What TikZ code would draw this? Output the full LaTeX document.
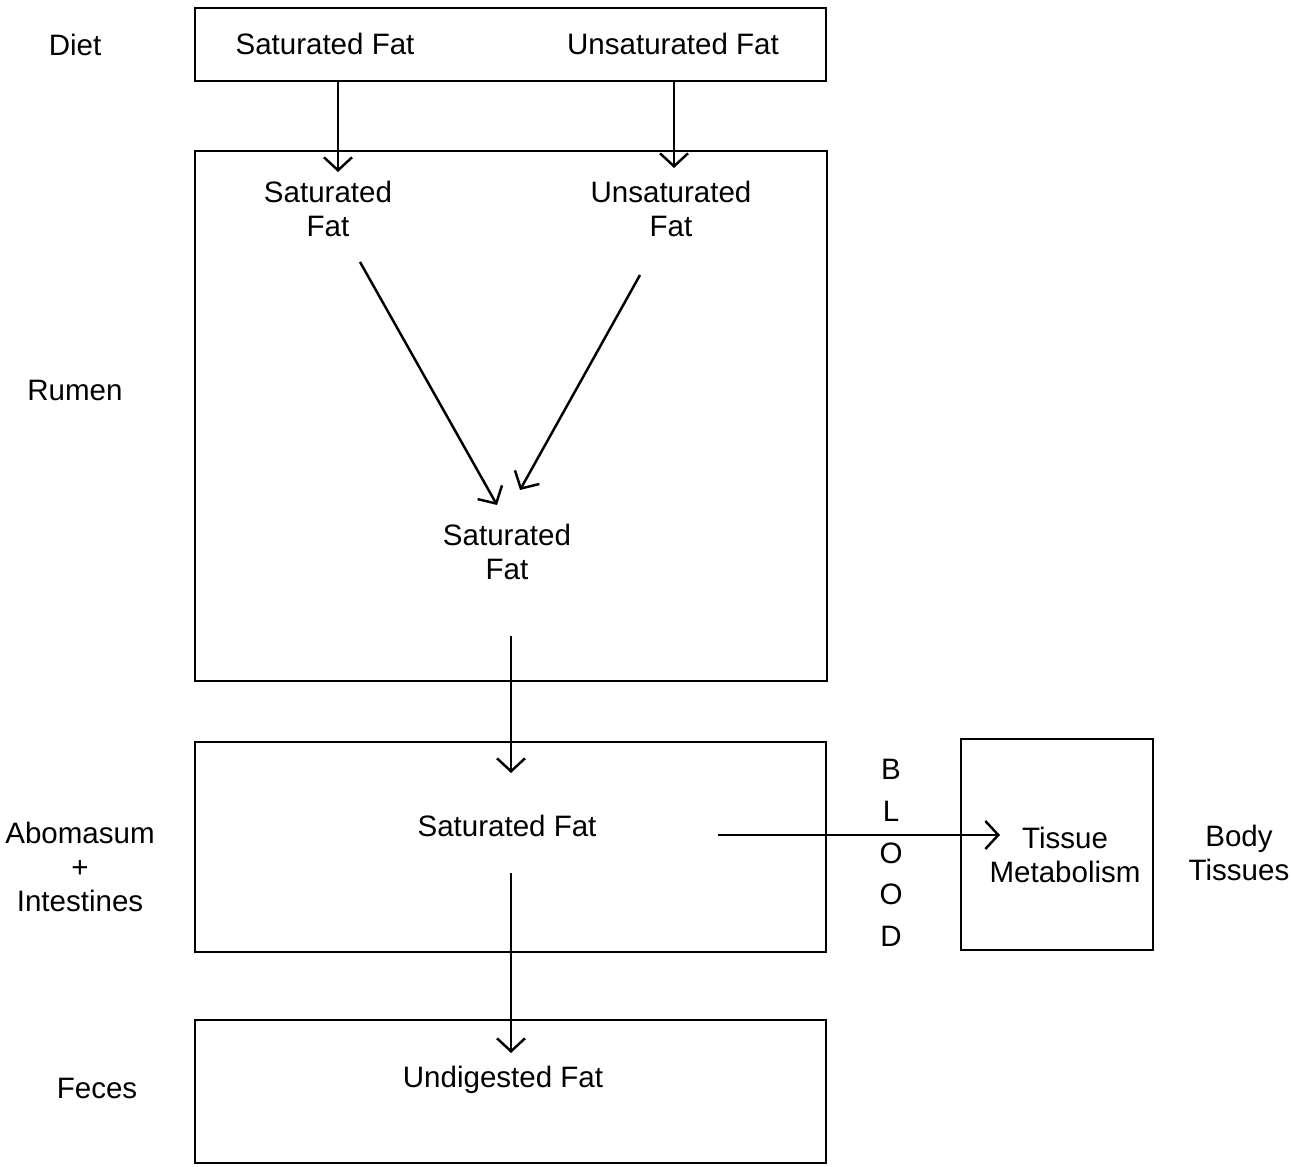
\documentclass[tikz,border=0pt]{standalone}
\usepackage{fontspec}
\setmainfont{Liberation Sans}
\usepackage{tikz}
\usetikzlibrary{arrows.meta,calc,positioning}

\tikzset{
  stage/.style={draw, line width=0.75pt, inner sep=0pt},
  lbl/.style={align=center, inner sep=1pt, font=\fontsize{8.4}{9.6}\selectfont},
  flow/.style={line width=0.7pt, -{Straight Barb[length=1.3mm,width=2.8mm,line width=0.7pt]}}
}

\begin{document}
\begin{tikzpicture}
\useasboundingbox (0,0) rectangle (12.91,11.66);
% boxes
\node[stage, minimum width=6.31cm, minimum height=0.73cm] (dietbox) at (5.105,11.215) {};
\node[stage, minimum width=6.32cm, minimum height=5.30cm] (rumenbox) at (5.11,7.50) {};
\node[stage, minimum width=6.31cm, minimum height=2.10cm] (abobox) at (5.105,3.19) {};
\node[stage, minimum width=6.31cm, minimum height=1.43cm] (fecesbox) at (5.105,0.745) {};
\node[stage, minimum width=1.92cm, minimum height=2.11cm] (bodybox) at (10.57,3.215) {};
% side labels
\node[lbl] (diet) at (0.75,11.21) {Diet};
\node[lbl] (rumen) at (0.75,7.76) {Rumen};
\node[lbl] (abomasum) at (0.80,2.99) {Abomasum\\+\\Intestines};
\node[lbl] (feces) at (0.97,0.78) {Feces};
\node[lbl] (body) at (12.39,3.13) {Body\\Tissues};
% contents
\node[lbl] (dsat) at (3.25,11.22) {Saturated Fat};
\node[lbl] (dunsat) at (6.73,11.22) {Unsaturated Fat};
\node[lbl] (rsat) at (3.28,9.57) {Saturated\\Fat};
\node[lbl] (runsat) at (6.71,9.57) {Unsaturated\\Fat};
\node[lbl] (rmid) at (5.07,6.14) {Saturated\\Fat};
\node[lbl] (asat) at (5.07,3.40) {Saturated Fat};
\node[lbl] (tissue) at (10.65,3.11) {Tissue\\Metabolism};
\node[lbl] (undig) at (5.03,0.86) {Undigested Fat};
\node[lbl, font=\fontsize{8.4}{11.9}\selectfont] (blood) at (8.91,3.13) {B\\L\\O\\O\\D};
% arrow ends
\coordinate (ds-in) at (3.38,9.94);
\coordinate (du-in) at (6.74,9.98);
\coordinate (rs-out) at (3.60,9.04);
\coordinate (ru-out) at (6.40,8.91);
\coordinate (rs-in) at (4.97,6.61);
\coordinate (ru-in) at (5.20,6.76);
\coordinate (rm-out) at (5.11,5.30);
\coordinate (as-in) at (5.11,3.93);
\coordinate (as-out) at (5.11,2.93);
\coordinate (as-right) at (7.18,3.31);
\coordinate (tm-in) at (10.00,3.31);
\coordinate (ud-in) at (5.11,1.13);
% flows
\draw[flow] (dietbox.south -| ds-in) -- (ds-in);
\draw[flow] (dietbox.south -| du-in) -- (du-in);
\draw[flow] (rs-out) -- (rs-in);
\draw[flow] (ru-out) -- (ru-in);
\draw[flow] (rm-out) -- (as-in);
\draw[flow] (as-right) -- (tm-in);
\draw[flow] (as-out) -- (ud-in);
\end{tikzpicture}
\end{document}
